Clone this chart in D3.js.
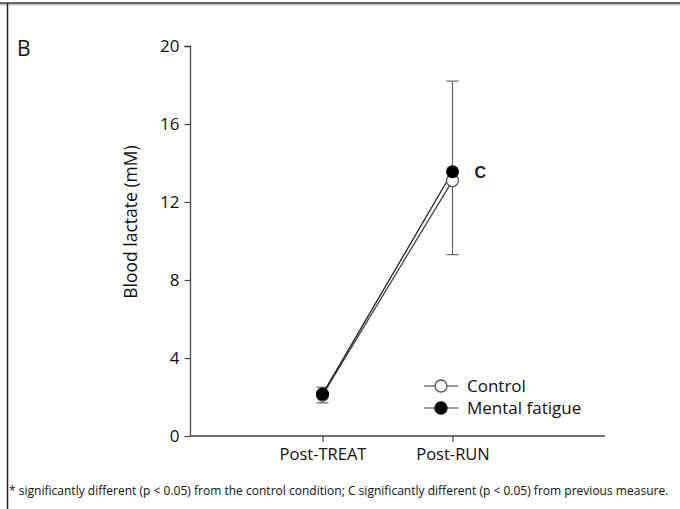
<!DOCTYPE html>
<html><head><meta charset="utf-8">
<script src="https://cdn.jsdelivr.net/npm/d3@7"></script>
<style>body{margin:0;background:#fff}svg{display:block}</style>
</head><body><svg id="c" width="680" height="509"></svg>
<script>
const categories = ["Post-TREAT", "Post-RUN"];
const control = [2.1, 13.1];
const mentalFatigue = [2.15, 13.55];
const errLower = [1.7, 9.3];
const errUpper = [2.5, 18.2];
const yTicks = [0, 4, 8, 12, 16, 20];
const sigLabels = ["", "C"];
const footnote = "* significantly different (p < 0.05) from the control condition; C significantly different (p < 0.05) from previous measure.";

const svg = d3.select("#c");
const font = "'Open Sans', sans-serif";

// frame
svg.append("line").attr("x1",0).attr("x2",680).attr("y1",3).attr("y2",3).attr("stroke","#333").attr("stroke-width",1.5);
svg.append("line").attr("x1",0).attr("x2",680).attr("y1",4.8).attr("y2",4.8).attr("stroke","#aaa").attr("stroke-width",1);
svg.append("line").attr("x1",7.5).attr("x2",7.5).attr("y1",3).attr("y2",509).attr("stroke","#222").attr("stroke-width",1.5);

const y = d3.scaleLinear().domain([0,20]).range([436,46]);
const x = d3.scalePoint().domain(categories).range([322.5,452.5]);

// y axis
const ya = svg.append("g").attr("transform","translate(190.5,0)")
  .call(d3.axisLeft(y).tickValues(yTicks).tickSize(6).tickPadding(5).tickFormat(d3.format("d")));
ya.select(".domain").attr("stroke","#444").attr("stroke-width",1.3).attr("d","M-6,46.5H0V436");
ya.selectAll(".tick line").attr("stroke","#444").attr("stroke-width",1.2);
ya.selectAll(".tick text").attr("font-family",font).attr("font-size",17).attr("fill","#111");

// x axis
const xa = svg.append("g").attr("transform","translate(0,436)")
  .call(d3.axisBottom(x).tickSize(6).tickPadding(6));
xa.select(".domain").attr("stroke","#444").attr("stroke-width",1.3).attr("d","M190.5,0H605");
xa.selectAll(".tick line").attr("stroke","#444").attr("stroke-width",1.2);
xa.selectAll(".tick text").attr("font-family",font).attr("font-size",16.5).attr("fill","#111");

// y label
svg.append("text").attr("transform","translate(137,222) rotate(-90)").attr("text-anchor","middle")
  .attr("font-family",font).attr("font-size",17.5).attr("fill","#111").text("Blood lactate (mM)");

// panel letter
svg.append("text").attr("x",17).attr("y",56).attr("font-family",font).attr("font-size",21).attr("fill","#111").text("B");

// error bars
const eb = svg.append("g").attr("stroke","#666").attr("stroke-width",1.2);
categories.forEach((c,i)=>{
  eb.append("line").attr("x1",x(c)).attr("x2",x(c)).attr("y1",y(errLower[i])).attr("y2",y(errUpper[i]));
  eb.append("line").attr("x1",x(c)-6).attr("x2",x(c)+6).attr("y1",y(errLower[i])).attr("y2",y(errLower[i]));
  eb.append("line").attr("x1",x(c)-6).attr("x2",x(c)+6).attr("y1",y(errUpper[i])).attr("y2",y(errUpper[i]));
});

// lines
const line = d3.line().x((d,i)=>x(categories[i])).y(d=>y(d));
svg.append("path").datum(control).attr("d",line).attr("fill","none").attr("stroke","#444").attr("stroke-width",1.3);
svg.append("path").datum(mentalFatigue).attr("d",line).attr("fill","none").attr("stroke","#222").attr("stroke-width",1.3);

// markers
svg.selectAll(".ctl").data(control).join("circle").attr("cx",(d,i)=>x(categories[i])).attr("cy",d=>y(d))
  .attr("r",6).attr("fill","#fff").attr("stroke","#555").attr("stroke-width",1.3);
svg.selectAll(".mf").data(mentalFatigue).join("circle").attr("cx",(d,i)=>x(categories[i])).attr("cy",d=>y(d))
  .attr("r",6.5).attr("fill","#000");

// significance
svg.selectAll(".sig").data(sigLabels).join("text").attr("x",(d,i)=>x(categories[i])+22).attr("y",(d,i)=>y(mentalFatigue[i])+6)
  .attr("font-family","'Liberation Sans', Arial, sans-serif").attr("font-weight","bold").attr("font-size",16).attr("fill","#222").text(d=>d);

// legend
const legend = [{name:"Control", fill:"#fff", stroke:"#555"},{name:"Mental fatigue", fill:"#000", stroke:"#000"}];
const lg = svg.append("g").attr("transform","translate(424,386)");
legend.forEach((d,i)=>{
  const g = lg.append("g").attr("transform",`translate(0,${i*22})`);
  g.append("line").attr("x1",0).attr("x2",34).attr("stroke","#777").attr("stroke-width",1.3);
  g.append("circle").attr("cx",17).attr("r",6).attr("fill",d.fill).attr("stroke",d.stroke).attr("stroke-width",1.3);
  g.append("text").attr("x",43).attr("y",6).attr("font-family",font).attr("font-size",17).attr("fill","#111").text(d.name);
});

// footnote (horizontally condensed to fit, like the narrow original face)
const fn = svg.append("g");
const ft = fn.append("text").attr("x",0).attr("y",0).attr("font-family",font).attr("font-size",13).attr("fill","#111").text(footnote);
const natural = ft.node().getComputedTextLength();
const k = 660 / natural;
fn.attr("transform",`translate(9,495) scale(${k},1)`);
</script></body></html>
